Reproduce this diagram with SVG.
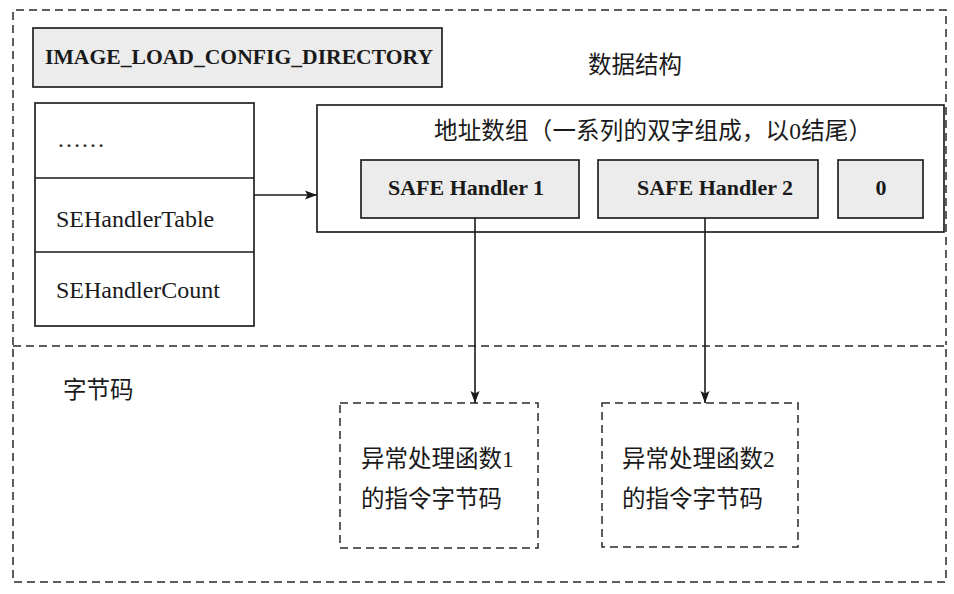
<svg xmlns="http://www.w3.org/2000/svg" width="954" height="594" viewBox="0 0 954 594">
<defs>
<style>
.dash{fill:none;stroke:#2a2a2a;stroke-width:1.5;stroke-dasharray:8 5}
.box{fill:#fff;stroke:#222;stroke-width:1.7}
.gbox{fill:#ececec;stroke:#222;stroke-width:1.7}
.lat{font-family:"Liberation Serif","Times New Roman",serif;font-size:24px;fill:#1a1a1a}
.bold{font-family:"Liberation Serif","Times New Roman",serif;font-size:22px;font-weight:bold;fill:#1a1a1a}
.cjk{font-family:"Liberation Serif","Noto Sans CJK SC",sans-serif;font-size:23.5px;fill:#1a1a1a}
.conn{fill:none;stroke:#1a1a1a;stroke-width:1.6}
</style>
<marker id="arr" viewBox="0 0 12 10" refX="12" refY="5" markerWidth="13" markerHeight="10" markerUnits="userSpaceOnUse" orient="auto">
<path d="M0,0.5 L12,5 L0,9.5 L2.5,5 Z" fill="#1a1a1a"/>
</marker>
</defs>
<rect width="954" height="594" fill="#fff"/>
<g id="region-data">
<path class="dash" d="M13,345 V10 H946 V345"/>
<text class="cjk" x="588" y="73">数据结构</text>
</g>
<g id="region-bytecode">
<rect class="dash" x="13" y="346" width="933" height="236"/>
<text class="cjk" x="63" y="398">字节码</text>
</g>
<g id="node-config">
<rect class="gbox" x="33" y="28" width="409" height="59" fill="#f2f2f2"/>
<text class="bold" x="45" y="64" textLength="388" lengthAdjust="spacingAndGlyphs">IMAGE_LOAD_CONFIG_DIRECTORY</text>
</g>
<g id="node-table">
<rect class="box" x="35" y="103" width="219" height="223"/>
<line class="conn" x1="35" y1="178" x2="254" y2="178"/>
<line class="conn" x1="35" y1="252" x2="254" y2="252"/>
<text class="lat" x="57" y="147">……</text>
<text class="lat" x="56" y="227">SEHandlerTable</text>
<text class="lat" x="56" y="298">SEHandlerCount</text>
</g>
<g id="node-array">
<rect class="box" x="317" y="105" width="627" height="127"/>
<text class="cjk" x="434" y="139" textLength="438">地址数组（一系列的双字组成，以0结尾）</text>
</g>
<g id="node-sh1">
<rect class="gbox" x="361" y="160" width="218" height="58"/>
<text class="bold" x="466" y="195" text-anchor="middle">SAFE Handler 1</text>
</g>
<g id="node-sh2">
<rect class="gbox" x="598" y="160" width="220" height="58"/>
<text class="bold" x="715" y="195" text-anchor="middle">SAFE Handler 2</text>
</g>
<g id="node-zero">
<rect class="gbox" x="838" y="160" width="85" height="58"/>
<text class="bold" x="881" y="195" text-anchor="middle">0</text>
</g>
<g id="node-code1">
<rect class="dash" x="340" y="403" width="198" height="145"/>
<text class="cjk" x="361" y="467">异常处理函数1</text>
<text class="cjk" x="361" y="507">的指令字节码</text>
</g>
<g id="node-code2">
<rect class="dash" x="602" y="403" width="196" height="144"/>
<text class="cjk" x="622" y="467">异常处理函数2</text>
<text class="cjk" x="622" y="507">的指令字节码</text>
</g>
<g id="connectors">
<line class="conn" x1="254" y1="195" x2="317" y2="195" marker-end="url(#arr)"/>
<line class="conn" x1="475" y1="218" x2="475" y2="403" marker-end="url(#arr)"/>
<line class="conn" x1="705" y1="218" x2="705" y2="403" marker-end="url(#arr)"/>
</g>
</svg>
